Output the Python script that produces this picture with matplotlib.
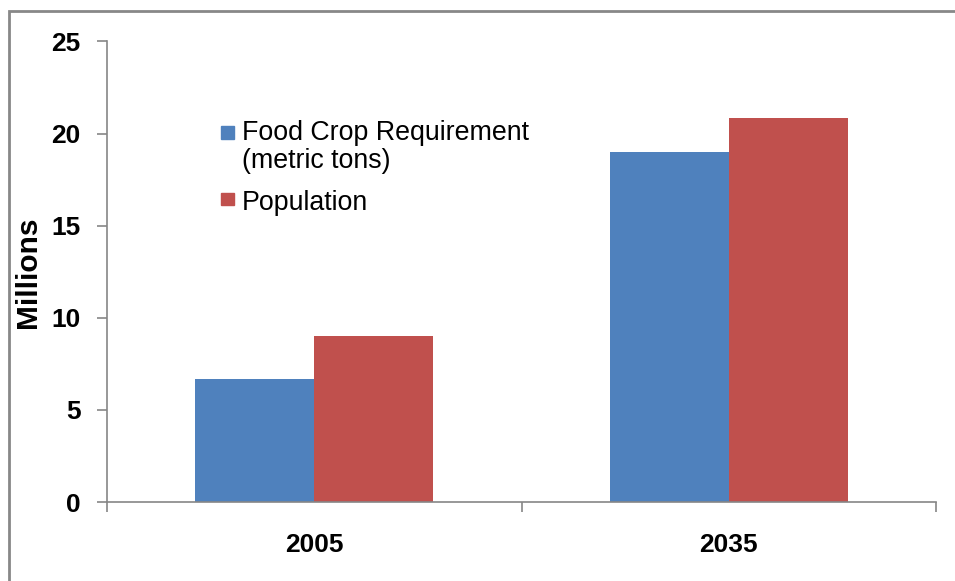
import matplotlib.pyplot as plt
from matplotlib.patches import Rectangle
import numpy as np

# Values in millions
years = ['2005', '2035']
food_crop = [6.7, 19.0]
population = [9.0, 20.85]

blue = '#4F81BD'
red = '#C0504D'
axis_gray = '#868686'

plt.rcParams['font.family'] = ['Liberation Sans', 'DejaVu Sans']

fig = plt.figure(figsize=(9.55, 5.81), dpi=100)
ax = fig.add_axes([107 / 955, 1 - 502 / 581, 829 / 955, (502 - 41.5) / 581])

x = np.arange(len(years))
w = 0.287
ax.bar(x - w / 2, food_crop, w, color=blue)
ax.bar(x + w / 2, population, w, color=red)

ax.set_xlim(-0.5, len(years) - 0.5)
ax.set_ylim(0, 25)
ax.set_yticks(np.arange(0, 26, 5))
ax.set_xticks(x)
ax.set_xticklabels(years)
ax.set_xticks(np.arange(-0.5, len(years), 1), minor=True)

for side in ['top', 'right']:
    ax.spines[side].set_visible(False)
for side in ['left', 'bottom']:
    ax.spines[side].set_color(axis_gray)
    ax.spines[side].set_linewidth(1.2)

ax.tick_params(axis='y', length=7, width=1.2, color=axis_gray, pad=12,
               labelsize=19)
ax.tick_params(axis='x', which='major', length=0, pad=22, labelsize=19)
ax.tick_params(axis='x', which='minor', length=7, width=1.2, color=axis_gray)
for lbl in ax.get_xticklabels() + ax.get_yticklabels():
    lbl.set_fontweight('bold')

ax.set_ylabel('Millions', fontsize=21.5, fontweight='bold', va='center')
ax.yaxis.set_label_coords((27.5 - 107) / 829, 0.5)

# legend drawn by hand so the square sits on the first line of the label
def fig_xy(px, py):
    return px / 955, 1 - py / 581

sq = 12.5
for (py, color) in [(126, blue), (192.5, red)]:
    fx, fy = fig_xy(221, py + sq)
    fig.patches.append(Rectangle((fx, fy), sq / 955, sq / 581, color=color,
                                 transform=fig.transFigure))
for text, py in [('Food Crop Requirement', 140), ('(metric tons)', 168),
                 ('Population', 210)]:
    fx, fy = fig_xy(242, py)
    fig.text(fx, fy, text, fontsize=19.3, va='baseline', ha='left')

# outer chart frame
fig.patches.append(Rectangle((9 / 955, -0.1), 1.2, 1 - 11 / 581 + 0.1,
                             fill=False, edgecolor='#888888', linewidth=2,
                             transform=fig.transFigure))

plt.savefig('out.png', dpi=100)
